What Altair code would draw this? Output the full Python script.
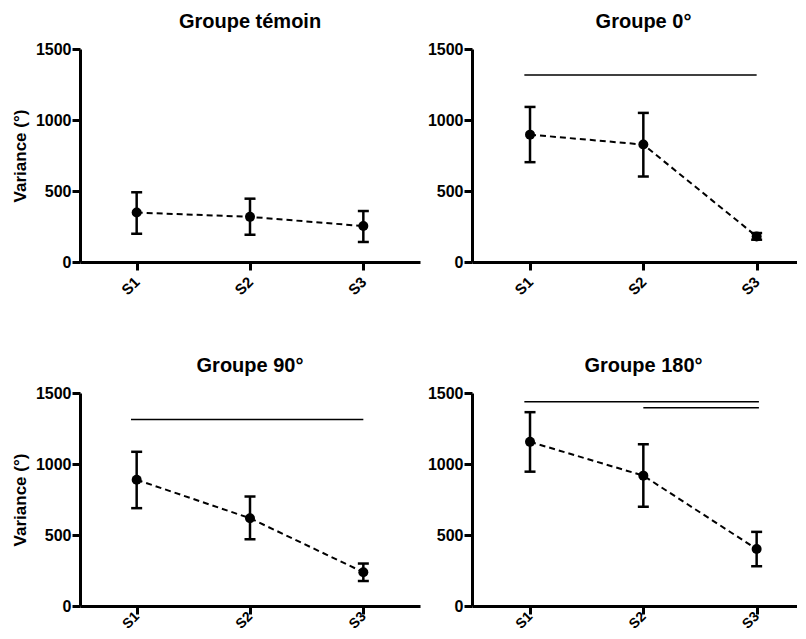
import altair as alt
import pandas as pd

sessions = ["S1", "S2", "S3"]
session_x = [1, 2, 3]
titles = ["Groupe témoin", "Groupe 0°", "Groupe 90°", "Groupe 180°"]
y_ticks = [0, 500, 1000, 1500]

temoin_mean = [348, 318, 253]
temoin_lo = [199, 192, 141]
temoin_hi = [491, 446, 359]

g0_mean = [897, 827, 180]
g0_lo = [703, 602, 157]
g0_hi = [1092, 1050, 204]

g90_mean = [889, 618, 238]
g90_lo = [689, 470, 176]
g90_hi = [1086, 771, 299]

g180_mean = [1156, 918, 401]
g180_lo = [946, 699, 280]
g180_hi = [1365, 1139, 522]

# significance bars: start, end (session position), level
temoin_sig = ([], [], [])
g0_sig = ([0.95], [3.0], [1317])
g90_sig = ([0.95], [3.0], [1313])
g180_sig = ([0.95, 2.0], [3.02, 3.02], [1439, 1397])

FONT = "Liberation Sans"
label_expr = "[" + ",".join("'%s'" % s for s in sessions) + "][datum.value - 1]"


def make_panel(title, mean, lo, hi, sig, show_ytitle, x_domain, width, xlab_pad, xlab_size, height=213):
    df = pd.DataFrame({"x": session_x, "session": sessions, "mean": mean, "lo": lo, "hi": hi})
    sig_df = pd.DataFrame({"x1": sig[0], "x2": sig[1], "y": sig[2]})
    xs = alt.Scale(domain=x_domain, nice=False, zero=False)
    ys = alt.Scale(domain=[0, 1500], nice=False, zero=False)
    xaxis = alt.Axis(values=session_x, labelExpr=label_expr, labelAngle=-45,
                     labelAlign="right", labelBaseline="middle", labelPadding=xlab_pad,
                     labelFontSize=xlab_size)
    yaxis = alt.Axis(values=y_ticks, format="d")
    ytitle = "Variance (°)" if show_ytitle else None
    base = alt.Chart(df)

    line = base.mark_line(color="black", strokeDash=[6, 4], strokeWidth=2).encode(
        x=alt.X("x:Q", scale=xs, axis=xaxis, title=None),
        y=alt.Y("mean:Q", scale=ys, axis=yaxis, title=ytitle),
    )
    bars = base.mark_rule(color="black", strokeWidth=2.5).encode(
        x=alt.X("x:Q", scale=xs, title=None),
        y=alt.Y("lo:Q", scale=ys, title=ytitle),
        y2="hi:Q",
    )
    cap_lo = base.mark_tick(color="black", orient="horizontal", size=11, thickness=2.5, opacity=1).encode(
        x=alt.X("x:Q", scale=xs, title=None),
        y=alt.Y("lo:Q", scale=ys, title=ytitle),
    )
    cap_hi = base.mark_tick(color="black", orient="horizontal", size=11, thickness=2.5, opacity=1).encode(
        x=alt.X("x:Q", scale=xs, title=None),
        y=alt.Y("hi:Q", scale=ys, title=ytitle),
    )
    pts = base.mark_circle(color="black", size=100, opacity=1).encode(
        x=alt.X("x:Q", scale=xs, title=None),
        y=alt.Y("mean:Q", scale=ys, title=ytitle),
    )
    layers = [line, bars, cap_lo, cap_hi, pts]
    if len(sig_df):
        sig_rule = alt.Chart(sig_df).mark_rule(color="black", strokeWidth=1.5).encode(
            x=alt.X("x1:Q", scale=xs, title=None),
            x2="x2:Q",
            y=alt.Y("y:Q", scale=ys, title=ytitle),
        )
        layers.append(sig_rule)
    return alt.layer(*layers).properties(
        width=width,
        height=height,
        title=alt.TitleParams(title, anchor="middle", font=FONT, fontSize=20,
                              fontWeight="bold", color="black", offset=9),
    )


left_domain = [0.5, 3.5]
right_domain = [0.488, 3.515]

p1 = make_panel(titles[0], temoin_mean, temoin_lo, temoin_hi, temoin_sig, True, left_domain, 340, 9, 15)
p2 = make_panel(titles[1], g0_mean, g0_lo, g0_hi, g0_sig, False, right_domain, 343, 9, 15)
p3 = make_panel(titles[2], g90_mean, g90_lo, g90_hi, g90_sig, True, left_domain, 340, 0, 14)
p4 = make_panel(titles[3], g180_mean, g180_lo, g180_hi, g180_sig, False, right_domain, 343, 0, 14)

top = alt.hconcat(p1, p2, spacing=7)
bottom = alt.hconcat(p3, p4, spacing=7)

chart = alt.vconcat(top, bottom, spacing=58).properties(
    padding={"left": 3, "top": 4, "right": -18, "bottom": 0}
).configure_axis(
    domainColor="black", domainWidth=3, tickColor="black", tickWidth=3, tickSize=8,
    labelFont=FONT, labelFontWeight="bold", labelFontSize=16, labelColor="black",
    labelPadding=1, grid=False,
    titleFont=FONT, titleFontWeight="bold", titleFontSize=17, titleColor="black",
    titlePadding=6,
).configure_view(stroke=None)

chart.save("out.html", embed_options={"renderer": "svg", "actions": False})
